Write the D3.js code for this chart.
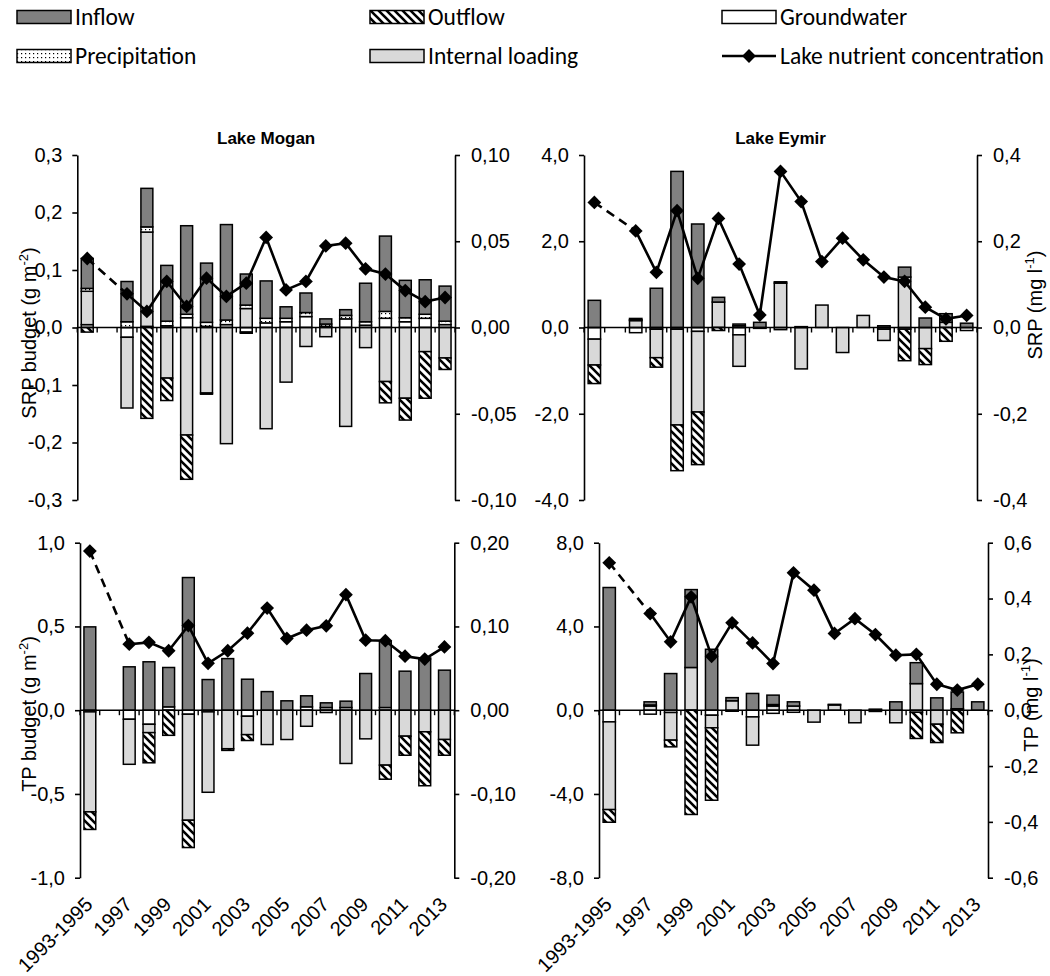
<!DOCTYPE html>
<html><head><meta charset="utf-8">
<script src="https://cdn.jsdelivr.net/npm/d3@7"></script>
<style>body{margin:0;background:#fff}svg{display:block}</style>
</head><body>
<svg id="chart" width="1050" height="976"></svg>
<script>
// ---------- DATA ----------
const categories = ["1993-1995","1996","1997","1998","1999","2000","2001","2002","2003","2004","2005","2006","2007","2008","2009","2010","2011","2012","2013"];
const xLabels = ["1993-1995","1997","1999","2001","2003","2005","2007","2009","2011","2013"];

// Lake Mogan SRP budget (g m-2) and concentration (mg l-1)
const moganSrpInflow   = [0.052,0,0.070,0.067,0.097,0.154,0.103,0.166,0.054,0.065,0.020,0.034,0.009,0.010,0.067,0.131,0.065,0.060,0.061];
const moganSrpOutflow  = [-0.008,0,0,-0.158,-0.039,-0.077,-0.002,0,-0.002,0,0,0,0,0,0,-0.037,-0.038,-0.081,-0.020];
const moganSrpGround   = [0.005,0,-0.017,0.002,0.003,0.017,0.002,0.005,-0.008,0.008,0.010,0.019,0.002,0.015,0.004,0.016,0.010,0.016,0.005];
const moganSrpPrecip   = [0.005,0,0.010,0.009,0.008,0.006,0.007,0.008,0.006,0.008,0.006,0.007,0.004,0.006,0.006,0.012,0.007,0.007,0.006];
const moganSrpInternal = [0.058,0,-0.123,0.164,-0.088,-0.187,-0.114,-0.202,0.033,-0.176,-0.095,-0.033,-0.016,-0.172,-0.035,-0.094,-0.123,-0.042,-0.053];
const moganSrpConc     = [0.040,null,0.0195,0.0093,0.0267,0.0122,0.0286,0.018,0.0257,0.0522,0.0218,0.0267,0.0473,0.0489,0.034,0.031,0.0214,0.015,0.0174];

// Lake Eymir SRP
const eymirSrpInflow   = [0.63,0,0.03,0.91,3.62,2.40,0.11,0.04,0.12,0.03,0.02,0,0,0,0.04,0.23,0.22,0.20,0.10];
const eymirSrpOutflow  = [-0.43,0,0,-0.22,-1.06,-1.22,-0.07,0,0,0,0,0,0,0,0,-0.73,-0.37,-0.32,0];
const eymirSrpGround   = [-0.27,0,-0.12,-0.04,-0.04,-0.09,0,-0.17,-0.02,-0.05,0,0,0,0,-0.04,-0.04,0,0,-0.07];
const eymirSrpPrecip   = [0,0,0.02,0,0,0,0,0.04,0,0,0,0,0,0,0,0,0,0,0];
const eymirSrpInternal = [-0.60,0,0.16,-0.66,-2.22,-1.87,0.59,-0.73,0,1.03,-0.96,0.52,-0.58,0.28,-0.26,1.17,-0.49,0.12,0];
const eymirSrpConc     = [0.29,null,0.224,0.128,0.271,0.114,0.253,0.147,0.029,0.362,0.292,0.153,0.207,0.157,0.117,0.107,0.047,0.020,0.028];

// Lake Mogan TP
const moganTpInflow   = [0.4975,0,0.259,0.289,0.235,0.792,0.183,0.308,0.185,0.111,0.056,0.066,0.028,0.038,0.219,0.396,0.233,0.312,0.239];
const moganTpOutflow  = [-0.105,0,0,-0.18,-0.15,-0.163,0,-0.01,-0.035,0,0,0,0,0,0,-0.084,-0.114,-0.322,-0.094];
const moganTpGround   = [-0.01,0,-0.054,-0.084,0.02,-0.024,-0.01,0,-0.036,0,0,0.02,0.016,0.016,0,0.016,0,0,0];
const moganTpPrecip   = [0,0,0,0,0,0,0,0,0,0,0,0,0,0,0,0,0,0,0];
const moganTpInternal = [-0.597,0,-0.269,-0.05,0,-0.633,-0.48,-0.23,-0.11,-0.205,-0.175,-0.096,-0.014,-0.318,-0.171,-0.328,-0.155,-0.129,-0.175];
const moganTpConc     = [0.190,null,0.0788,0.081,0.071,0.101,0.056,0.071,0.092,0.122,0.0856,0.0955,0.1007,0.138,0.0836,0.083,0.0645,0.061,0.0756];

// Lake Eymir TP
const eymirTpInflow   = [5.86,0,0.15,1.75,3.72,2.91,0.15,0.80,0.45,0.20,0,0.03,0,0.05,0.40,1.00,0.59,0.80,0.40];
const eymirTpOutflow  = [-0.605,0,0,-0.32,-4.98,-3.46,0,0,0,0,0,0,0,0,0,-1.25,-0.875,-1.08,0];
const eymirTpGround   = [-0.557,0,-0.19,-0.11,0,-0.24,-0.05,-0.32,-0.15,-0.10,0,0,0,0,0,-0.10,0,0.07,0];
const eymirTpPrecip   = [0,0,0.05,0,0,0,0,0,0.07,0,0,0,0,0,0,0,0,0,0];
const eymirTpInternal = [-4.19,0,0.20,-1.32,2.04,-0.60,0.45,-1.35,0.20,0.20,-0.57,0.25,-0.60,-0.06,-0.60,1.27,-0.67,0,0];
const eymirTpConc     = [0.528,null,0.346,0.245,0.406,0.193,0.313,0.241,0.167,0.492,0.430,0.275,0.328,0.271,0.197,0.200,0.093,0.072,0.093];

// Axis tick values
const moganSrpLeftTicks  = [-0.3,-0.2,-0.1,0,0.1,0.2,0.3];
const moganSrpRightTicks = [-0.10,-0.05,0,0.05,0.10];
const eymirSrpLeftTicks  = [-4,-2,0,2,4];
const eymirSrpRightTicks = [-0.4,-0.2,0,0.2,0.4];
const moganTpLeftTicks   = [-1,-0.5,0,0.5,1];
const moganTpRightTicks  = [-0.2,-0.1,0,0.1,0.2];
const eymirTpLeftTicks   = [-8,-4,0,4,8];
const eymirTpRightTicks  = [-0.6,-0.4,-0.2,0,0.2,0.4,0.6];

const legendItems = ["Inflow","Outflow","Groundwater","Precipitation","Internal loading","Lake nutrient concentration"];

// ---------- DRAWING ----------
const svg = d3.select("#chart");
const defs = svg.append("defs");
const hatch = defs.append("pattern").attr("id","hatch").attr("patternUnits","userSpaceOnUse").attr("width",8).attr("height",8);
hatch.append("rect").attr("width",8).attr("height",8).attr("fill","#fff");
hatch.append("path").attr("d","M-2,-2L10,10M-2,6L2,10M6,-2L10,2").attr("stroke","#000").attr("stroke-width",2.6);
const dots = defs.append("pattern").attr("id","dots").attr("patternUnits","userSpaceOnUse").attr("width",4).attr("height",4);
dots.append("rect").attr("width",4).attr("height",4).attr("fill","#fff");
dots.append("rect").attr("x",1).attr("y",1).attr("width",1.2).attr("height",1.2).attr("fill","#000");

const fills = {inflow:"#808080", outflow:"url(#hatch)", groundwater:"#ffffff", precip:"url(#dots)", internal:"#d9d9d9"};
const keys = ["groundwater","internal","precip","inflow","outflow"];
const loc = d3.formatLocale({decimal:",", thousands:".", grouping:[3], currency:["",""], minus:"-"});
const AX_FONT = "'Liberation Sans', Arial, sans-serif";

const panels = [
  {x0:77.3, x1:455, y0:155, y1:500, lDom:[-0.3,0.3], rDom:[-0.1,0.1], lT:moganSrpLeftTicks, rT:moganSrpRightTicks, lf:".1f", rf:".2f",
   inflow:moganSrpInflow, outflow:moganSrpOutflow, groundwater:moganSrpGround, precip:moganSrpPrecip, internal:moganSrpInternal, conc:moganSrpConc,
   title:"Lake Mogan", xl:false, lTitle:["SRP budget (g m","-2",")"], lTitleX:36, lTitleY:333, rTitle:null},
  {x0:584, x1:977, y0:155, y1:500, lDom:[-4,4], rDom:[-0.4,0.4], lT:eymirSrpLeftTicks, rT:eymirSrpRightTicks, lf:".1f", rf:".1f",
   inflow:eymirSrpInflow, outflow:eymirSrpOutflow, groundwater:eymirSrpGround, precip:eymirSrpPrecip, internal:eymirSrpInternal, conc:eymirSrpConc,
   title:"Lake Eymir", xl:false, lTitle:null, rTitle:["SRP (mg l","-1",")"], rTitleX:1042, rTitleY:305},
  {x0:80, x1:454.3, y0:542.7, y1:877.7, lDom:[-1,1], rDom:[-0.2,0.2], lT:moganTpLeftTicks, rT:moganTpRightTicks, lf:".1f", rf:".2f",
   inflow:moganTpInflow, outflow:moganTpOutflow, groundwater:moganTpGround, precip:moganTpPrecip, internal:moganTpInternal, conc:moganTpConc,
   title:null, xl:true, lTitle:["TP budget (g m","-2",")"], lTitleX:36, lTitleY:714, rTitle:null},
  {x0:599, x1:988, y0:542.7, y1:877.7, lDom:[-8,8], rDom:[-0.6,0.6], lT:eymirTpLeftTicks, rT:eymirTpRightTicks, lf:".1f", rf:".1f",
   inflow:eymirTpInflow, outflow:eymirTpOutflow, groundwater:eymirTpGround, precip:eymirTpPrecip, internal:eymirTpInternal, conc:eymirTpConc,
   title:null, xl:true, lTitle:null, rTitle:["TP (mg l","-1",")"], rTitleX:1038, rTitleY:705}
];

function styleAxis(g){
  g.attr("font-family",null).attr("font-size",null);
  g.select(".domain").attr("stroke","#000").attr("stroke-width",1.6);
  g.selectAll(".tick line").attr("stroke","#000").attr("stroke-width",1.6);
  g.selectAll(".tick text").attr("fill","#000").style("font-family",AX_FONT).style("font-size","20px");
}

function supTitle(sel, parts){
  sel.append("tspan").text(parts[0]);
  sel.append("tspan").text(parts[1]).attr("dy",-8).style("font-size","13px");
  sel.append("tspan").text(parts[2]).attr("dy",8);
}

panels.forEach(p => {
  const x = d3.scaleBand().domain(categories).range([p.x0,p.x1]).paddingInner(0.4).paddingOuter(0.2);
  const step = x.step(), bw = x.bandwidth();
  const yL = d3.scaleLinear().domain(p.lDom).range([p.y1,p.y0]);
  const yR = d3.scaleLinear().domain(p.rDom).range([p.y1,p.y0]);
  const rows = categories.map((c,i)=>({cat:c, groundwater:p.groundwater[i], internal:p.internal[i], precip:p.precip[i], inflow:p.inflow[i], outflow:p.outflow[i]}));
  const series = d3.stack().keys(keys).offset(d3.stackOffsetDiverging)(rows);
  const g = svg.append("g");

  series.forEach(s => {
    g.append("g").selectAll("rect").data(s.filter(d=>Math.abs(d[1]-d[0])>1e-9)).join("rect")
      .attr("x", d=>x(d.data.cat)).attr("width", bw)
      .attr("y", d=>yL(Math.max(d[0],d[1])))
      .attr("height", d=>Math.abs(yL(d[0])-yL(d[1])))
      .attr("fill", fills[s.key]).attr("stroke","#000").attr("stroke-width",1.5);
  });

  // category axis at zero
  const y0 = yL(0);
  g.append("line").attr("x1",p.x0).attr("x2",p.x1).attr("y1",y0).attr("y2",y0).attr("stroke","#000").attr("stroke-width",1.6);
  g.append("g").selectAll("line").data(categories.concat(["__end"])).join("line")
    .attr("x1",(c,i)=>p.x0+i*step).attr("x2",(c,i)=>p.x0+i*step)
    .attr("y1",y0).attr("y2",y0+5).attr("stroke","#000").attr("stroke-width",1.4);

  // axes
  g.append("g").attr("transform",`translate(${p.x0},0)`)
    .call(d3.axisLeft(yL).tickValues(p.lT).tickFormat(loc.format(p.lf)).tickSize(5).tickSizeOuter(0).tickPadding(10))
    .call(styleAxis);
  g.append("g").attr("transform",`translate(${p.x1},0)`)
    .call(d3.axisRight(yR).tickValues(p.rT).tickFormat(loc.format(p.rf)).tickSize(5).tickSizeOuter(0).tickPadding(11))
    .call(styleAxis);

  // concentration line
  const pts = categories.map((c,i)=> p.conc[i]==null ? null : [x(c)+bw/2, yR(p.conc[i])]);
  g.append("path").attr("d", d3.line().defined(d=>d!=null)(pts))
    .attr("fill","none").attr("stroke","#000").attr("stroke-width",2.6);
  // dashed bridge over missing values
  for (let i=1;i<pts.length;i++){
    if (pts[i]==null){
      let a=i-1, b=i; while(b<pts.length && pts[b]==null) b++;
      if (a>=0 && pts[a] && b<pts.length){
        g.append("path").attr("d", d3.line()([pts[a],pts[b]])).attr("fill","none")
          .attr("stroke","#000").attr("stroke-width",2.6).attr("stroke-dasharray","9,6");
      }
      i=b;
    }
  }
  g.append("g").selectAll("path").data(pts.filter(d=>d)).join("path")
    .attr("d", d3.symbol(d3.symbolSquare, 95)())
    .attr("transform", d=>`translate(${d[0]},${d[1]}) rotate(45)`).attr("fill","#000");

  // x labels
  if (p.xl){
    g.append("g").selectAll("text").data(xLabels).join("text")
      .attr("transform", c=>`translate(${x(c)+bw/2+4},${p.y1+28}) rotate(-45)`)
      .attr("text-anchor","end").style("font-family",AX_FONT).style("font-size","20px").text(c=>c);
  }
  if (p.title){
    g.append("text").attr("x",(p.x0+p.x1)/2).attr("y",144).attr("text-anchor","middle")
      .style("font-family",AX_FONT).style("font-size","17px").style("font-weight","bold").text(p.title);
  }
  if (p.lTitle){
    const t = g.append("text").attr("transform",`translate(${p.lTitleX},${p.lTitleY}) rotate(-90)`)
      .attr("text-anchor","middle").style("font-family",AX_FONT).style("font-size","20px");
    supTitle(t, p.lTitle);
  }
  if (p.rTitle){
    const t = g.append("text").attr("transform",`translate(${p.rTitleX},${p.rTitleY}) rotate(-90)`)
      .attr("text-anchor","middle").style("font-family",AX_FONT).style("font-size","20px");
    supTitle(t, p.rTitle);
  }
});

// ---------- LEGEND ----------
const LEG_FONT = "Carlito, Lato, 'Open Sans', sans-serif";
const legFills = ["#808080","url(#hatch)","#ffffff","url(#dots)","#d9d9d9",null];
const colX = [17,370,722], rowY = [17,56];
const lg = svg.append("g");
legendItems.forEach((name,i)=>{
  const cx = colX[i%3], cy = rowY[Math.floor(i/3)];
  if (legFills[i]){
    lg.append("rect").attr("x",cx).attr("y",cy-6.5).attr("width",54).attr("height",13)
      .attr("fill",legFills[i]).attr("stroke","#000").attr("stroke-width",1.5);
  } else {
    lg.append("line").attr("x1",cx).attr("x2",cx+54).attr("y1",cy).attr("y2",cy).attr("stroke","#000").attr("stroke-width",2.6);
    lg.append("path").attr("d",d3.symbol(d3.symbolSquare,95)()).attr("transform",`translate(${cx+27},${cy}) rotate(45)`).attr("fill","#000");
  }
  lg.append("text").attr("x",cx+58).attr("y",cy+8).style("font-family",LEG_FONT).style("font-size","23.5px").text(name);
});
</script>
</body></html>
